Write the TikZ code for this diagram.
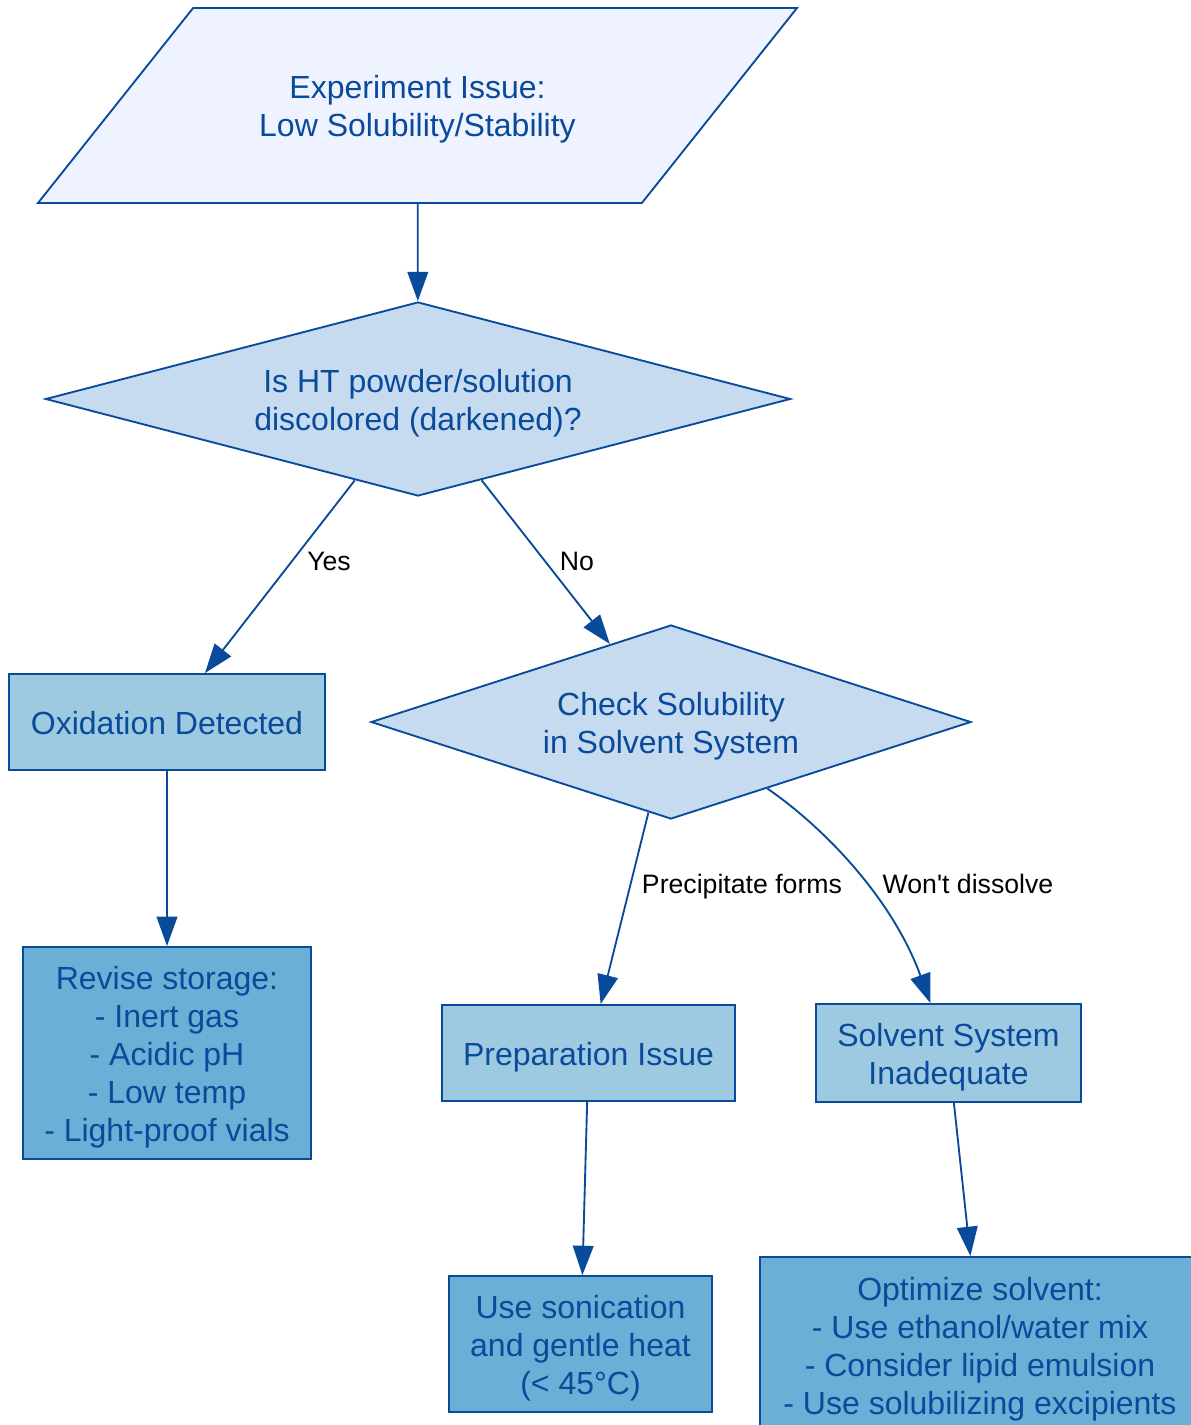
\documentclass[tikz,border=0pt]{standalone}
\usepackage{fontspec}
\setmainfont{Liberation Sans}[Ligatures=TeXOff]
\usetikzlibrary{shapes.geometric,arrows.meta}

\definecolor{lineblue}{RGB}{10,74,154}
\definecolor{paleblue}{HTML}{EFF3FF}
\definecolor{askblue}{HTML}{C6DBEF}
\definecolor{midblue}{HTML}{9ECAE1}
\definecolor{deepblue}{HTML}{6BAED6}

% strut for the first line of a text
\newcommand{\topln}{\rule{0pt}{24pt}}

\tikzset{
  base/.style={draw=lineblue,text=lineblue,line width=1.4pt,align=center,inner sep=0pt,
    font={\fontsize{24}{28.5}\selectfont\lineskiplimit=-20pt},
    execute at begin node={\rule[-6pt]{0pt}{30pt}},
    execute at end node={\rule[-6pt]{0pt}{6pt}}},
  issuebox/.style={base,shape=trapezium,trapezium left angle=51.5,trapezium right angle=128.5,
    trapezium stretches body,inner ysep=43.875pt,fill=paleblue,
    minimum width=569.25pt,minimum height=146.25pt},
  decision/.style={base,shape=diamond,fill=askblue},
  stepbox/.style={base,shape=rectangle,fill=midblue},
  actbox/.style={base,shape=rectangle,fill=deepblue},
  flow/.style={draw=lineblue,line width=1.4pt,-{Triangle[length=22pt,width=15.5pt]}},
  elabel/.style={text=black,inner sep=0pt,text height=14.5pt,text depth=0pt,
    font=\fontsize{20}{24}\selectfont}
}

\begin{document}
\begin{tikzpicture}[x=0.75pt,y=-0.75pt]
\useasboundingbox (0,0) rectangle (1191,1425);
\clip (0,0) rectangle (1191,1425);

\node[issuebox] (issue) at (417.5,105.5) {\topln Experiment Issue:\\Low Solubility/Stability};
\node[decision,aspect=3.84,minimum width=558.75pt,minimum height=145.5pt] (dark) at (418,399) {\topln Is HT powder/solution\\discolored (darkened)?};
\node[stepbox,minimum width=237pt,minimum height=72pt] (oxid) at (167,722) {Oxidation Detected};
\node[decision,aspect=3.09,minimum width=450pt,minimum height=145.5pt] (solub) at (671,722) {\topln Check Solubility\\in Solvent System};
\node[actbox,minimum width=216pt,minimum height=159pt] (store) at (167,1053) {\topln Revise storage:\\- Inert gas\\- Acidic pH\\- Low temp\\- Light-proof vials};
\node[stepbox,minimum width=219.75pt,minimum height=72pt] (prep) at (588.5,1053) {Preparation Issue};
\node[stepbox,minimum width=198.75pt,minimum height=73.5pt] (solv) at (948.5,1053) {\topln Solvent System\\Inadequate};
\node[actbox,minimum width=197.25pt,minimum height=102pt] (sonic) at (580.5,1344) {\topln Use sonication\\and gentle heat\\(< 45°C)};
\node[actbox,minimum width=330pt,minimum height=132pt] (optim) at (980,1345) {\topln Optimize solvent:\\- Use ethanol/water mix\\- Consider lipid emulsion\\- Use solubilizing excipients};

% edge labels
\node[elabel] (lyes) at (329,561) {Yes};
\node[elabel] (lno) at (577,561) {No};
\node[elabel] (lprec) at (742,884) {Precipitate forms};
\node[elabel] (lwont) at (968,884) {Won't dissolve};

\draw[flow] (issue) -- (dark);
\draw[flow] (dark) -- (oxid);
\draw[flow] (dark) -- (solub);
\draw[flow] (oxid) -- (store);
\draw[flow] (solub) -- (prep);
\draw[flow] (solub) .. controls (826,829) and (893,900) .. (solv);
\draw[flow] (prep) -- (sonic);
\draw[flow] (solv) -- (optim);
\end{tikzpicture}
\end{document}
